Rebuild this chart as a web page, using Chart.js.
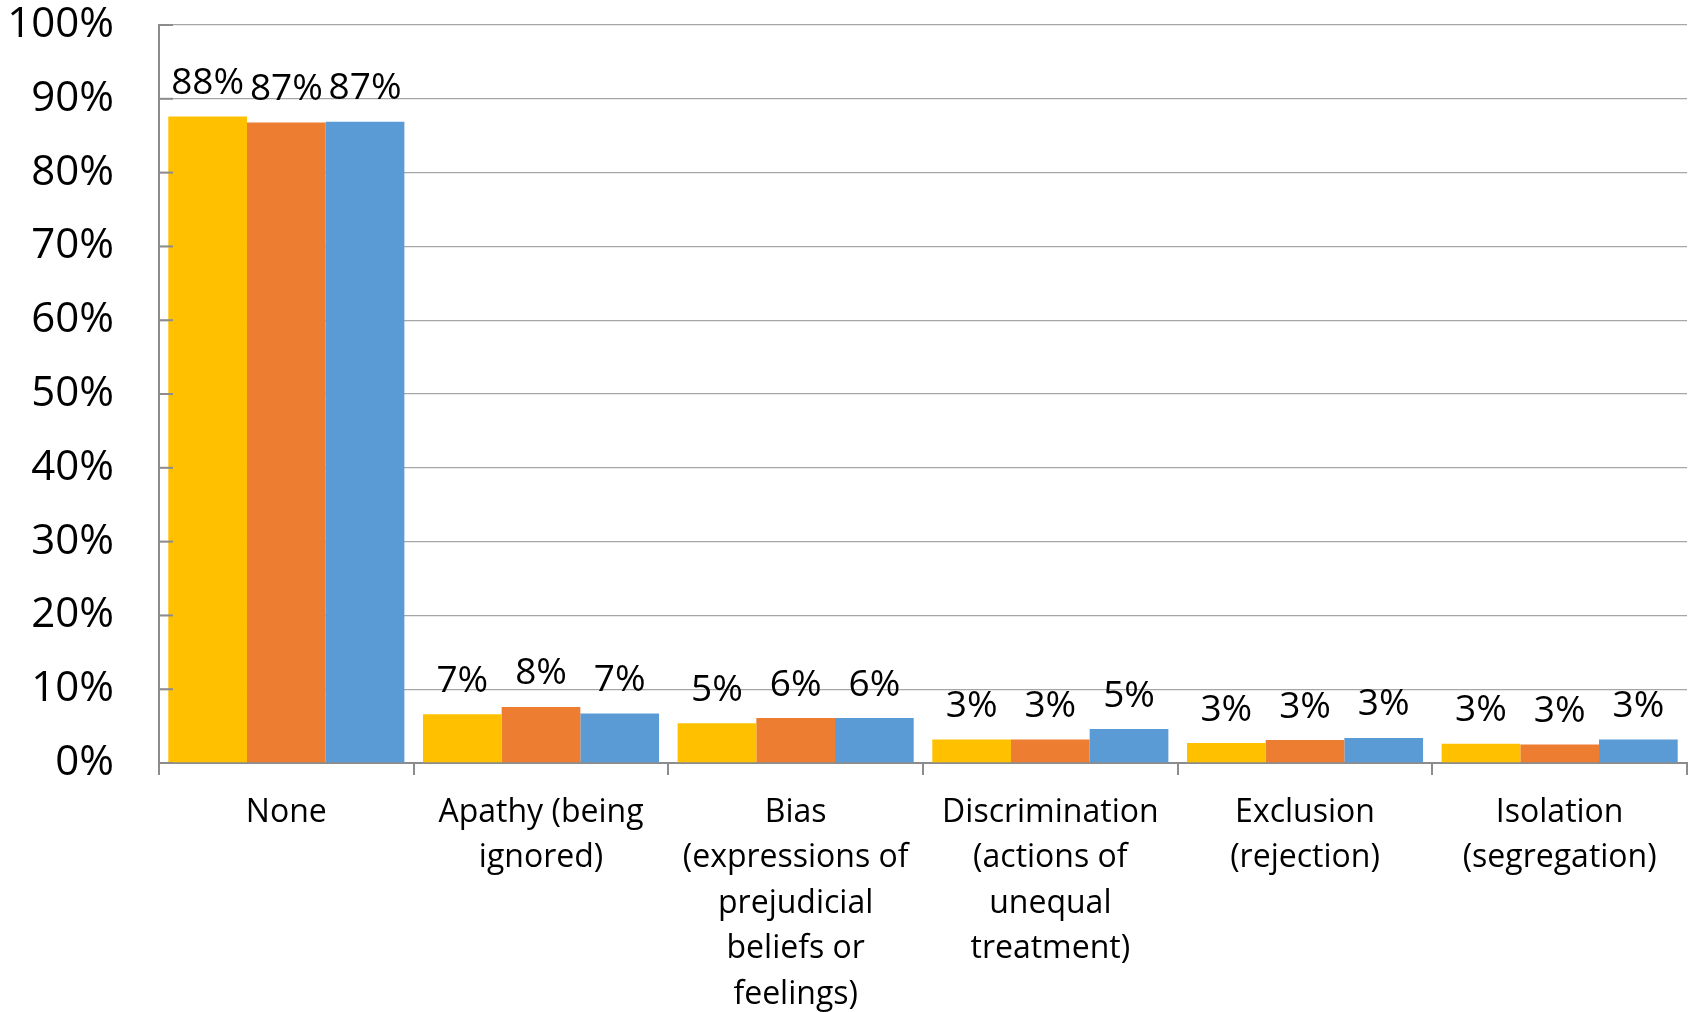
<!DOCTYPE html>
<html>
<head>
<meta charset="utf-8">
<title>Grouped bars</title>
<script src="https://cdn.jsdelivr.net/npm/chart.js@4"></script>
<style>
  html, body { margin: 0; padding: 0; background: #fff; }
  #wrap { width: 1690px; height: 1012px; position: relative; }
</style>
</head>
<body>
<div id="wrap"><canvas id="grafico"></canvas></div>
<script>
const categorias = [
  ["None"],
  ["Apathy (being", "ignored)"],
  ["Bias", "(expressions of", "prejudicial", "beliefs or", "feelings)"],
  ["Discrimination", "(actions of", "unequal", "treatment)"],
  ["Exclusion", "(rejection)"],
  ["Isolation", "(segregation)"]
]

const serieAmarela = [87.6, 6.6, 5.4, 3.2, 2.7, 2.6]
const serieLaranja = [86.8, 7.6, 6.1, 3.2, 3.1, 2.5]
const serieAzul = [86.9, 6.7, 6.1, 4.6, 3.4, 3.2]

const cores = ["#FFC000", "#ED7D31", "#5B9BD5"]

const fonte = "'Open Sans', sans-serif"

// rótulos de valor em cima de cada barra
const rotulosBarras = {
  id: "rotulosBarras",
  afterDatasetsDraw(chart) {
    const ctx = chart.ctx
    ctx.save()
    ctx.font = "37px " + fonte
    ctx.fillStyle = "#000"
    ctx.textAlign = "center"
    ctx.textBaseline = "middle"
    chart.data.datasets.forEach((ds, i) => {
      const meta = chart.getDatasetMeta(i)
      meta.data.forEach((barra, j) => {
        ctx.fillText(Math.round(ds.data[j]) + "%", barra.x, barra.y - 33)
      })
    })
    ctx.restore()
  }
}

// tracinhos do eixo y voltados para dentro
const ticksInternos = {
  id: "ticksInternos",
  afterDraw(chart) {
    const ctx = chart.ctx
    const y = chart.scales.y
    ctx.save()
    ctx.strokeStyle = "#8c8c8c"
    ctx.lineWidth = 2
    y.ticks.forEach(t => {
      const py = y.getPixelForValue(t.value)
      ctx.beginPath()
      ctx.moveTo(y.right, py)
      ctx.lineTo(y.right + 14, py)
      ctx.stroke()
    })
    ctx.restore()
  }
}

new Chart(document.getElementById("grafico"), {
  type: "bar",
  data: {
    labels: categorias,
    datasets: [
      { label: "Série 1", data: serieAmarela, backgroundColor: cores[0] },
      { label: "Série 2", data: serieLaranja, backgroundColor: cores[1] },
      { label: "Série 3", data: serieAzul, backgroundColor: cores[2] }
    ]
  },
  options: {
    responsive: true,
    maintainAspectRatio: false,
    animation: false,
    layout: {
      padding: { left: 10, right: 3, top: 25, bottom: 0 }
    },
    datasets: {
      bar: {
        categoryPercentage: 0.927,
        barPercentage: 1,
        borderWidth: 0
      }
    },
    plugins: {
      legend: { display: false },
      tooltip: { enabled: false }
    },
    scales: {
      x: {
        afterFit(s) {
          s.height = 249
          s.paddingLeft = 0
          s.paddingRight = 0
        },
        grid: {
          offset: true,
          drawOnChartArea: false,
          drawTicks: true,
          tickLength: 12,
          color: "#8c8c8c",
          lineWidth: 2
        },
        border: { color: "#8c8c8c", width: 2 },
        ticks: {
          color: "#000",
          padding: 15,
          maxRotation: 0,
          autoSkip: false,
          font: { family: fonte, size: 32, lineHeight: 1.42 }
        }
      },
      y: {
        min: 0,
        max: 100,
        afterFit(s) {
          s.width = 149
          s.paddingTop = 0
          s.paddingBottom = 0
        },
        grid: {
          drawTicks: false,
          color: "#a6a6a6",
          lineWidth: 1.3
        },
        border: { color: "#8c8c8c", width: 2 },
        ticks: {
          stepSize: 10,
          color: "#000",
          padding: 45,
          font: { family: fonte, size: 42 },
          callback: v => v + "%"
        }
      }
    }
  },
  plugins: [rotulosBarras, ticksInternos]
})
</script>
</body>
</html>
